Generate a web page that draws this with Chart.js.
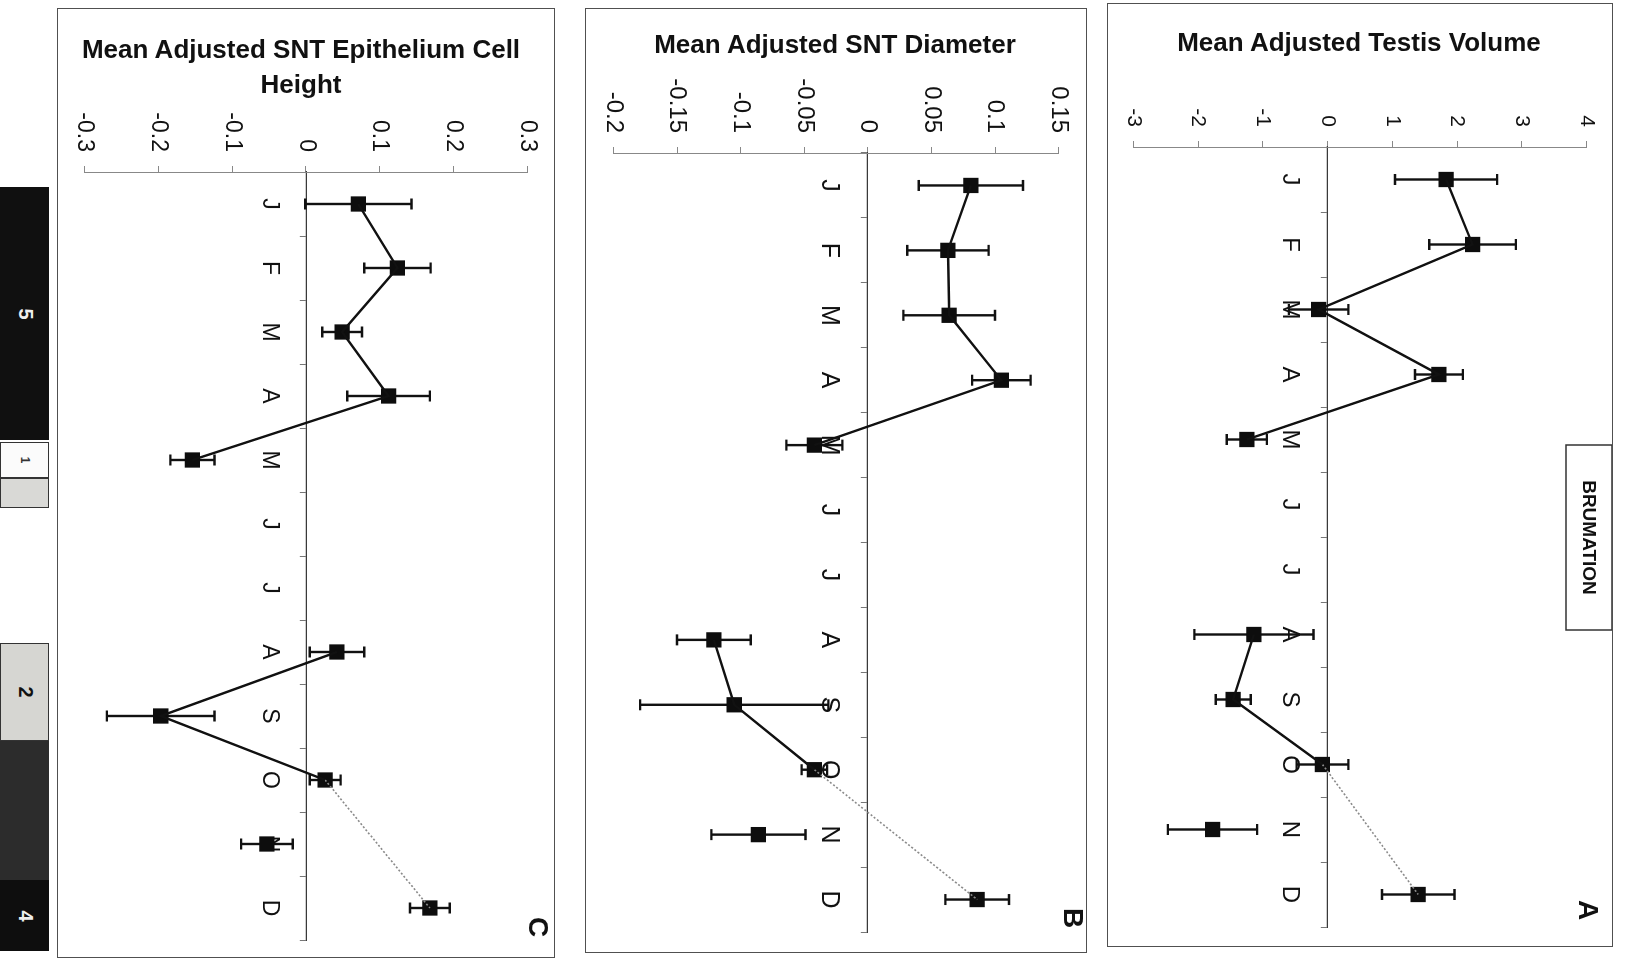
<!DOCTYPE html>
<html>
<head>
<meta charset="utf-8">
<script src="https://cdn.jsdelivr.net/npm/chart.js@4.4.1/dist/chart.umd.min.js"></script>
<style>
  html, body { margin: 0; padding: 0; background: #fff; }
  body { width: 1625px; height: 960px; position: relative; overflow: hidden;
         font-family: 'Liberation Sans', Arial, sans-serif; }
  .frame { position: absolute; border: 1.5px solid #505050; box-sizing: border-box; pointer-events: none; }
  .rot { position: absolute; transform-origin: 0 0; }
  .title { position: absolute; font-weight: bold; font-size: 26px; color: #111;
           text-align: center; line-height: 35px; white-space: nowrap; width: 600px; }
  .seg { position: absolute; left: 0; width: 49px; box-sizing: border-box; }
  .seg span { position: absolute; left: 50%; top: 50%; transform: translate(-50%, -50%) rotate(90deg);
              font-weight: bold; font-size: 20px; }
</style>
</head>
<body>

<!-- season bar -->
<div class="seg" style="top:187px;height:253px;background:#101010;"><span style="color:#eee">5</span></div>
<div class="seg" style="top:442px;height:36px;background:#fbfbfb;border:1.5px solid #333;"><span style="color:#333;font-size:12px">1</span></div>
<div class="seg" style="top:478px;height:30px;background:#d9d9d6;border:1.5px solid #333;"></div>
<div class="seg" style="top:643px;height:98px;background:#d6d6d2;border:1.5px solid #333;"><span style="color:#111">2</span></div>
<div class="seg" style="top:741px;height:139px;background:#2c2c2c;"></div>
<div class="seg" style="top:880px;height:71px;background:#0e0e0e;"><span style="color:#eee">4</span></div>

<!-- panel C -->
<div class="rot" id="wrapC"><canvas id="chartC"></canvas></div>
<div class="frame" style="left:57px;top:8px;width:498px;height:950px;"></div>
<div class="title" style="left:1px;top:32px;">Mean Adjusted SNT Epithelium Cell<br>Height</div>

<!-- panel B -->
<div class="rot" id="wrapB"><canvas id="chartB"></canvas></div>
<div class="frame" style="left:585px;top:8px;width:502px;height:945px;"></div>
<div class="title" style="left:535px;top:27px;">Mean Adjusted SNT Diameter</div>

<!-- panel A -->
<div class="rot" id="wrapA"><canvas id="chartA"></canvas></div>
<div class="frame" style="left:1107px;top:3px;width:506px;height:944px;"></div>
<div class="title" style="left:1059px;top:25px;">Mean Adjusted Testis Volume</div>

<script>
// Month categories, January to December
const months = ['J', 'F', 'M', 'A', 'M', 'J', 'J', 'A', 'S', 'O', 'N', 'D'];

// Months joined by the solid line, and the two months joined by the dotted link
const solidLinked  = [1, 1, 1, 1, 1, 0, 0, 1, 1, 1, 0, 0];
const dottedLinked = [0, 0, 0, 0, 0, 0, 0, 0, 0, 1, 0, 1];

// A: mean adjusted testis volume and its error
const testisMean = [1.83, 2.24, -0.14, 1.72, -1.25, null, null, -1.14, -1.46, -0.08, -1.78, 1.40];
const testisErr  = [0.79, 0.67, 0.46, 0.37, 0.31, null, null, 0.92, 0.27, 0.40, 0.69, 0.56];
const testisTicks = [-3, -2, -1, 0, 1, 2, 3, 4];
const testisTickLabels = ['-3', '-2', '-1', '0', '1', '2', '3', '4'];

// B: mean adjusted seminiferous tubule diameter
const diameterMean = [0.081, 0.063, 0.064, 0.105, -0.042, null, null, -0.121, -0.105, -0.042, -0.086, 0.086];
const diameterErr  = [0.041, 0.032, 0.036, 0.023, 0.022, null, null, 0.029, 0.074, 0.010, 0.037, 0.025];
const diameterTicks = [-0.2, -0.15, -0.1, -0.05, 0, 0.05, 0.1, 0.15];
const diameterTickLabels = ['-0.2', '-0.15', '-0.1', '-0.05', '0', '0.05', '0.1', '0.15'];

// C: mean adjusted epithelium cell height
const epitheliumMean = [0.071, 0.124, 0.049, 0.112, -0.154, null, null, 0.042, -0.197, 0.026, -0.053, 0.168];
const epitheliumErr  = [0.072, 0.045, 0.027, 0.056, 0.030, null, null, 0.037, 0.073, 0.021, 0.035, 0.027];
const epitheliumTicks = [-0.3, -0.2, -0.1, 0, 0.1, 0.2, 0.3];
const epitheliumTickLabels = ['-0.3', '-0.2', '-0.1', '0', '0.1', '0.2', '0.3'];

const FONT = "'Liberation Sans', Arial, sans-serif";

// Vertical error bars with short caps, drawn under the line and markers
const errorBarPlugin = {
  id: 'errorBars',
  beforeDatasetsDraw(chart) {
    const { ctx, scales: { x, y } } = chart;
    chart.data.datasets.forEach(ds => {
      if (!ds.errorBars) return;
      ctx.save();
      ctx.strokeStyle = '#111';
      ctx.lineWidth = 2.4;
      ds.data.forEach((v, i) => {
        const e = ds.errorBars[i];
        if (v == null || e == null) return;
        const px = x.getPixelForValue(i);
        const lo = y.getPixelForValue(v - e);
        const hi = y.getPixelForValue(v + e);
        ctx.beginPath();
        ctx.moveTo(px, lo); ctx.lineTo(px, hi);
        ctx.moveTo(px - 5.5, lo); ctx.lineTo(px + 5.5, lo);
        ctx.moveTo(px - 5.5, hi); ctx.lineTo(px + 5.5, hi);
        ctx.stroke();
      });
      ctx.restore();
    });
  }
};

// Panel letter and the optional boxed season note
const panelMarksPlugin = {
  id: 'panelMarks',
  afterDraw(chart, args, opts) {
    const { ctx } = chart;
    ctx.save();
    ctx.fillStyle = '#111';
    ctx.textAlign = 'center';
    ctx.textBaseline = 'middle';
    if (opts.letter) {
      ctx.font = `bold 28px ${FONT}`;
      ctx.fillText(opts.letter, opts.lx, opts.ly);
    }
    if (opts.note) {
      const b = opts.note;
      ctx.strokeStyle = '#333';
      ctx.lineWidth = 1.5;
      ctx.strokeRect(b.x, b.y, b.w, b.h);
      ctx.font = `bold 19px ${FONT}`;
      ctx.fillText(b.text, b.x + b.w / 2, b.y + b.h / 2 + 1);
    }
    ctx.restore();
  }
};

function pick(values, mask) {
  return values.map((v, i) => (mask[i] ? v : null));
}

function buildPanel(p) {
  const wrap = document.getElementById(p.wrap);
  wrap.style.left = p.left + 'px';
  wrap.style.top = p.top + 'px';
  wrap.style.width = p.w + 'px';
  wrap.style.height = p.h + 'px';
  // the whole plot is turned a quarter turn clockwise
  wrap.style.transform = `translate(${p.h}px, 0px) rotate(90deg)`;
  const canvas = document.getElementById(p.canvas);
  canvas.width = p.w;
  canvas.height = p.h;

  const tickVals = p.ticks;
  const tickLbls = p.tickLabels;

  new Chart(canvas, {
    type: 'line',
    data: {
      labels: months,
      datasets: [
        {
          data: pick(p.mean, solidLinked),
          borderColor: '#111', borderWidth: 2.4, pointRadius: 0,
          spanGaps: false, tension: 0
        },
        {
          data: pick(p.mean, dottedLinked),
          borderColor: '#8a8a8a', borderWidth: 1.6, borderDash: [2, 2], pointRadius: 0,
          spanGaps: true, tension: 0
        },
        {
          data: p.mean, errorBars: p.err,
          showLine: false, pointStyle: 'rect', pointRadius: 10.8,
          backgroundColor: '#0d0d0d', borderColor: '#0d0d0d', borderWidth: 0
        }
      ]
    },
    options: {
      responsive: false,
      animation: false,
      events: [],
      layout: { padding: { left: 0, top: p.padTop, right: p.padRight, bottom: p.padBottom } },
      plugins: {
        legend: { display: false },
        tooltip: { enabled: false },
        panelMarks: p.marks
      },
      scales: {
        x: {
          type: 'category',
          position: { y: 0 },
          offset: true,
          grid: { display: true, drawOnChartArea: false, drawTicks: true, tickLength: 6, offset: true, color: '#777' },
          border: { display: true, color: '#3a3a3a', width: 1.2 },
          ticks: { font: { family: FONT, size: p.monthSize }, color: '#111', padding: p.monthPad,
                   maxRotation: 0, minRotation: 0, autoSkip: false }
        },
        y: {
          type: 'linear',
          position: 'left',
          min: tickVals[0],
          max: tickVals[tickVals.length - 1],
          afterFit: s => { s.width = p.axisW; },
          afterBuildTicks: s => { s.ticks = tickVals.map(v => ({ value: v })); },
          grid: { display: true, drawOnChartArea: false, drawTicks: true, tickLength: 6, color: '#888' },
          border: { display: true, color: '#888', width: 1 },
          ticks: { font: { family: FONT, size: p.tickSize }, color: '#111', padding: 14,
                   callback: (v, i) => tickLbls[i] }
        }
      }
    },
    plugins: [errorBarPlugin, panelMarksPlugin]
  });
}

buildPanel({
  wrap: 'wrapA', canvas: 'chartA', left: 1107, top: 3, w: 944, h: 506,
  padTop: 23, padBottom: 23, padRight: 20, axisW: 144,
  mean: testisMean, err: testisErr, ticks: testisTicks, tickLabels: testisTickLabels,
  tickSize: 21, monthSize: 24, monthPad: 18,
  marks: { letter: 'A', lx: 907, ly: 26,
           note: { text: 'BRUMATION', x: 442, y: 1, w: 185, h: 46 } }
});

buildPanel({
  wrap: 'wrapB', canvas: 'chartB', left: 585, top: 8, w: 945, h: 502,
  padTop: 24, padBottom: 23, padRight: 21, axisW: 145,
  mean: diameterMean, err: diameterErr, ticks: diameterTicks, tickLabels: diameterTickLabels,
  tickSize: 24, monthSize: 25, monthPad: 18,
  marks: { letter: 'B', lx: 910, ly: 15 }
});

buildPanel({
  wrap: 'wrapC', canvas: 'chartC', left: 57, top: 8, w: 949, h: 498,
  padTop: 22, padBottom: 23, padRight: 17, axisW: 164,
  mean: epitheliumMean, err: epitheliumErr, ticks: epitheliumTicks, tickLabels: epitheliumTickLabels,
  tickSize: 23, monthSize: 23, monthPad: 17,
  marks: { letter: 'C', lx: 919, ly: 18 }
});
</script>
</body>
</html>
